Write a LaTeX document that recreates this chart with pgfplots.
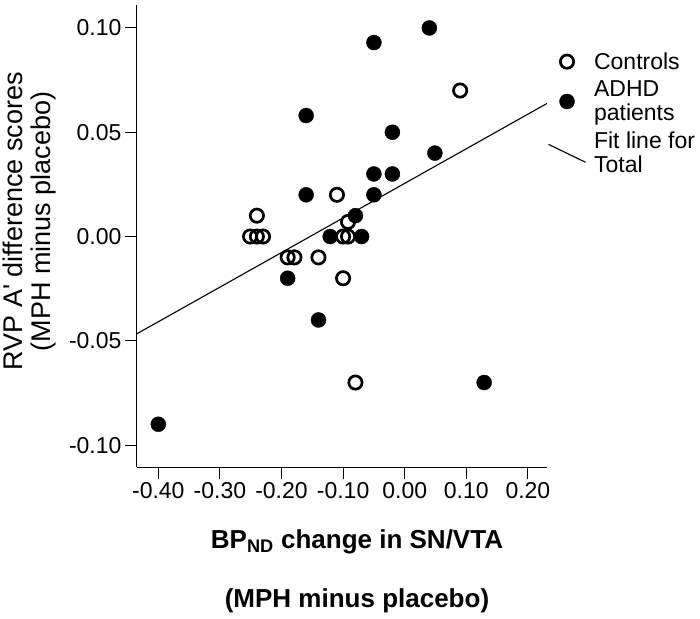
\documentclass[border=0pt]{standalone}
\usepackage{pgfplots}
\pgfplotsset{compat=1.18}
\usepackage{fontspec}
\setmainfont{Liberation Sans}
\pgfplotsset{
  markleg/.style={legend image code/.code={\draw[mark repeat=2,mark phase=2,##1] plot coordinates {(0pt,0pt) (18.5pt,0pt) (37pt,0pt)};}},
  lineleg/.style={legend image code/.code={\draw[##1] (0pt,9pt) -- (37pt,-9pt);}},
}
\begin{document}
\begin{tikzpicture}
\useasboundingbox (-137pt,-151pt) rectangle (563pt,467pt);
\begin{axis}[
  at={(0,0)}, anchor=south west,
  scale only axis, width=410pt, height=462pt,
  xmin=-0.4346, xmax=0.231, ymin=-0.1105, ymax=0.111,
  axis x line*=bottom, axis y line*=left,
  axis line style={line width=1pt, black},
  tick align=outside, major tick length=12pt,
  tick style={line width=1pt, black},
  xtick={-0.4,-0.3,-0.2,-0.1,0,0.1,0.2},
  ytick={-0.1,-0.05,0,0.05,0.1},
  scaled ticks=false,
  /pgf/number format/fixed, /pgf/number format/fixed zerofill,
  /pgf/number format/precision=2, /pgf/number format/assume math mode=true,
  tick label style={font=\fontsize{23}{24}\selectfont},
  xlabel={BP\textsubscript{ND} change in SN/VTA\\[29pt](MPH minus placebo)},
  every axis x label/.style={at={(axis description cs:0.5366,-0.127)}, anchor=north, align=center, font=\fontsize{26}{30}\selectfont\bfseries},
  ylabel={RVP A\textquotesingle{} difference scores\\(MPH minus placebo)},
  every axis y label/.style={at={(axis description cs:-0.1878,0.532)}, rotate=90, anchor=south, align=center, font=\fontsize{27}{28}\selectfont},
  legend style={at={(1.0024,0.897)}, anchor=north west, draw=none, fill=none, inner sep=0pt, outer sep=0pt, row sep=10pt,
    /tikz/every odd column/.append style={column sep=8pt},
    nodes={inner sep=0pt, align=left, font=\fontsize{23}{21.5}\selectfont}},
  legend cell align=left,
]
\addplot[only marks, mark=o, mark size=6.65pt, mark options={line width=2.7pt, black}, markleg]
coordinates {
(-0.251,0) (-0.240,0) (-0.230,0) (-0.240,0.010) (-0.190,-0.010) (-0.179,-0.010)
(-0.140,-0.010) (-0.100,-0.020) (-0.080,-0.070) (-0.110,0.020) (-0.100,0)
(-0.092,0) (-0.092,0.007) (0.090,0.070)
};
\addlegendentry{\strut Controls}
\addplot[only marks, mark=*, mark size=7.5pt, mark options={line width=0.4pt, black, fill=black}, markleg]
coordinates {
(-0.400,-0.090) (0.129,-0.070) (-0.140,-0.040) (-0.190,-0.020) (-0.121,0)
(-0.070,0) (-0.080,0.010) (-0.160,0.020) (-0.050,0.020) (-0.160,0.058)
(-0.050,0.030) (-0.020,0.030) (-0.020,0.050) (0.049,0.040) (-0.050,0.093)
(0.040,0.100)
};
\addlegendentry{\strut ADHD\\\strut patients}
\addplot[black, line width=1.1pt, no marks, lineleg]
coordinates {(-0.4346,-0.0466) (0.231,0.0638)};
\addlegendentry{\strut Fit line for\\\strut Total}
\end{axis}
\end{tikzpicture}
\end{document}
